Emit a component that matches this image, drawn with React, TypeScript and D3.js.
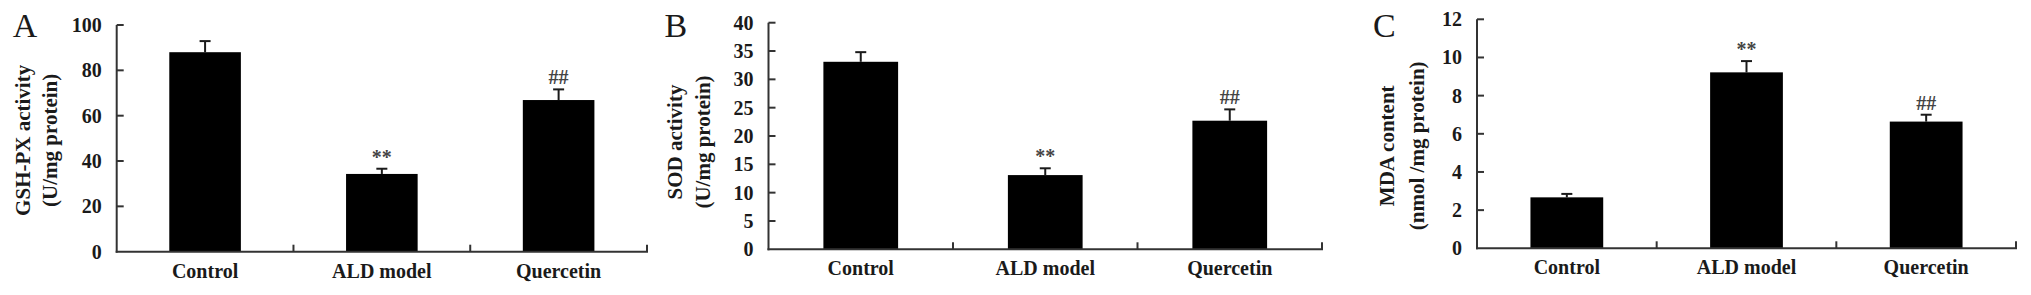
import React from "react";
import * as d3 from "d3";

const categories = ["Control", "ALD model", "Quercetin"];

const gshpxValues = [88.0, 34.3, 66.9];
const gshpxErrors = [4.9, 2.3, 4.7];
const gshpxMarks = ["", "**", "##"];
const gshpxTicks = [0, 20, 40, 60, 80, 100];

const sodValues = [33.1, 13.1, 22.7];
const sodErrors = [1.7, 1.2, 2.0];
const sodMarks = ["", "**", "##"];
const sodTicks = [0, 5, 10, 15, 20, 25, 30, 35, 40];

const mdaValues = [2.67, 9.22, 6.64];
const mdaErrors = [0.18, 0.59, 0.36];
const mdaMarks = ["", "**", "##"];
const mdaTicks = [0, 2, 4, 6, 8, 10, 12];

const FONT = "'Liberation Serif', 'Times New Roman', serif";
const AXIS = "#333";
const INK = "#1a1a1a";

type PanelProps = {
  letter: string;
  titleLines: string[];
  values: number[];
  errors: number[];
  marks: string[];
  ticks: number[];
  left: number;
  right: number;
  top: number;
  base: number;
  titleOffsets: number[];
  titleShift: number;
};

function Panel(p: PanelProps) {
  const yMax = p.ticks[p.ticks.length - 1];
  const y = d3.scaleLinear().domain([0, yMax]).range([p.base, p.top]);
  const x = d3.scaleBand<string>().domain(categories).range([p.left, p.right]).padding(0);
  const bw = x.bandwidth() * 0.405;
  const capW = 11;
  const boundaries = categories.map((c) => (x(c) as number) + x.bandwidth());
  const midY = (p.top + p.base) / 2 + p.titleShift;
  return (
    <g>
      <text x={p.left - 104} y={37} fontFamily={FONT} fontSize={34} fill={INK}>
        {p.letter}
      </text>
      {p.titleLines.map((t, i) => (
        <text
          key={t}
          transform={`translate(${p.left + p.titleOffsets[i]},${midY}) rotate(-90)`}
          textAnchor="middle"
          dominantBaseline="central"
          fontFamily={FONT}
          fontWeight="bold"
          fontSize={21}
          fill={INK}
        >
          {t}
        </text>
      ))}
      {/* bars */}
      {categories.map((c, i) => {
        const cx = (x(c) as number) + x.bandwidth() / 2;
        const top = y(p.values[i]);
        const et = y(p.values[i] + p.errors[i]);
        return (
          <g key={c}>
            <line x1={cx} x2={cx} y1={top} y2={et} stroke={INK} strokeWidth={2} />
            <line x1={cx - capW / 2} x2={cx + capW / 2} y1={et} y2={et} stroke={INK} strokeWidth={2} />
            <rect x={cx - bw / 2} y={top} width={bw} height={p.base - top} fill="#000" />
            {p.marks[i] && (
              <text
                x={cx}
                y={et - 5}
                textAnchor="middle"
                fontFamily={FONT}
                fontWeight="bold"
                fontSize={20}
                fill="#444"
              >
                {p.marks[i]}
              </text>
            )}
            <text
              x={cx}
              y={p.base + 26}
              textAnchor="middle"
              fontFamily={FONT}
              fontWeight="bold"
              fontSize={20}
              fill={INK}
            >
              {c}
            </text>
          </g>
        );
      })}
      {/* axes */}
      <line x1={p.left} x2={p.left} y1={p.top} y2={p.base + 1} stroke={AXIS} strokeWidth={2} />
      <line x1={p.left - 1} x2={p.right + 1} y1={p.base} y2={p.base} stroke={AXIS} strokeWidth={2} />
      {p.ticks.map((t) => (
        <g key={t}>
          {t > 0 && (
            <line x1={p.left} x2={p.left + 7} y1={y(t)} y2={y(t)} stroke={AXIS} strokeWidth={2} />
          )}
          <text
            x={p.left - 15}
            y={y(t)}
            textAnchor="end"
            dominantBaseline="central"
            fontFamily={FONT}
            fontWeight="bold"
            fontSize={20}
            fill={INK}
          >
            {t}
          </text>
        </g>
      ))}
      {boundaries.map((bx, i) => (
        <line key={i} x1={bx} x2={bx} y1={p.base} y2={p.base - 7} stroke={AXIS} strokeWidth={2} />
      ))}
    </g>
  );
}

export default function App() {
  return (
    <svg
      width={2031}
      height={295}
      style={{ position: "absolute", left: 0, top: 0, background: "#fff" }}
    >
      <rect width={2031} height={295} fill="#fff" />
      <Panel
        letter="A"
        titleLines={["GSH-PX activity", "(U/mg protein)"]}
        values={gshpxValues}
        errors={gshpxErrors}
        marks={gshpxMarks}
        ticks={gshpxTicks}
        left={116.7}
        right={647}
        top={25}
        base={251.7}
        titleOffsets={[-93.4, -66.7]}
        titleShift={2}
      />
      <Panel
        letter="B"
        titleLines={["SOD activity", "(U/mg protein)"]}
        values={sodValues}
        errors={sodErrors}
        marks={sodMarks}
        ticks={sodTicks}
        left={768.5}
        right={1322}
        top={22.7}
        base={249.3}
        titleOffsets={[-93.3, -65.3]}
        titleShift={6}
      />
      <Panel
        letter="C"
        titleLines={["MDA content", "(nmol /mg protein)"]}
        values={mdaValues}
        errors={mdaErrors}
        marks={mdaMarks}
        ticks={mdaTicks}
        left={1477}
        right={2016}
        top={19.3}
        base={248.3}
        titleOffsets={[-90.3, -60.3]}
        titleShift={12}
      />
    </svg>
  );
}
